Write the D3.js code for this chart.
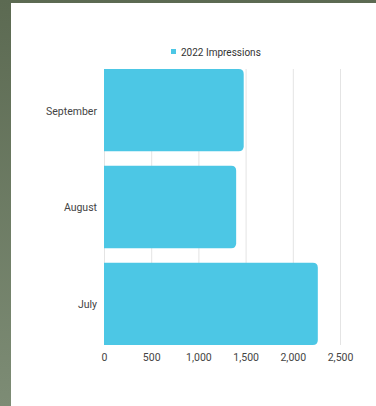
<!DOCTYPE html>
<html>
<head>
<meta charset="utf-8">
<script src="https://cdn.jsdelivr.net/npm/d3@7/dist/d3.min.js"></script>
<style>
  html, body { margin: 0; padding: 0; background: #ffffff; }
  svg { display: block; }
  text { font-family: Roboto, "Noto Sans", sans-serif; }
</style>
</head>
<body>
<svg id="chart" width="376" height="406"></svg>
<script>
// Monthly impressions, top to bottom
const months = ["September", "August", "July"];
const impressions = [1480, 1400, 2265];
const seriesName = "2022 Impressions";
const xTicks = [0, 500, 1000, 1500, 2000, 2500];

const svg = d3.select("#chart");
const W = 376, H = 406;
const fontSize = 10.5;

// Page backdrop: muted green frame with a white card
const defs = svg.append("defs");
const grad = defs.append("linearGradient")
  .attr("id", "frame").attr("x1", 0).attr("y1", 0).attr("x2", 0).attr("y2", 1);
grad.append("stop").attr("offset", "0%").attr("stop-color", "#5c6a52");
grad.append("stop").attr("offset", "100%").attr("stop-color", "#7d8c75");
svg.append("rect").attr("width", W).attr("height", H).attr("fill", "url(#frame)");
svg.append("rect").attr("x", 11).attr("y", 3).attr("width", W - 11).attr("height", H - 3)
  .attr("fill", "#ffffff");

const x = d3.scaleLinear().domain([0, 2500]).range([104, 340]);
const y = d3.scaleBand().domain(months).range([69, 345]).paddingInner(0.15).paddingOuter(0);

// Vertical gridlines
svg.append("g").selectAll("line").data(xTicks).join("line")
  .attr("x1", d => x(d) + 0.5).attr("x2", d => x(d) + 0.5)
  .attr("y1", 69).attr("y2", 345)
  .attr("stroke", "#e4e4e4").attr("stroke-width", 1);

// Bars with rounded right ends
const r = 5;
function barPath(x0, x1, y0, h) {
  const rr = Math.min(r, (x1 - x0) / 2, h / 2);
  return `M${x0},${y0}H${x1 - rr}Q${x1},${y0} ${x1},${y0 + rr}` +
         `V${y0 + h - rr}Q${x1},${y0 + h} ${x1 - rr},${y0 + h}H${x0}Z`;
}
const data = months.map((m, i) => ({ month: m, value: impressions[i] }));
svg.append("g").selectAll("path").data(data).join("path")
  .attr("d", d => barPath(x(0), x(d.value), y(d.month), y.bandwidth()))
  .attr("fill", "#4cc7e5");

// X axis labels
const xAxis = d3.axisBottom(x).tickValues(xTicks).tickSize(0).tickPadding(0)
  .tickFormat(d3.format(","));
const gx = svg.append("g").attr("transform", "translate(0,354)").call(xAxis);
gx.select(".domain").remove();
gx.selectAll("text").attr("font-size", fontSize).attr("fill", "#444444")
  .attr("font-family", "Roboto, sans-serif");

// Y axis labels
const yAxis = d3.axisLeft(y).tickSize(0).tickPadding(0);
const gy = svg.append("g").attr("transform", "translate(97,1)").call(yAxis);
gy.select(".domain").remove();
gy.selectAll("text").attr("font-size", fontSize).attr("fill", "#444444")
  .attr("font-family", "Roboto, sans-serif");

// Legend
const lg = svg.append("g").attr("transform", "translate(171,49)");
lg.append("rect").attr("width", 5).attr("height", 5).attr("fill", "#4cc7e5");
lg.append("text").attr("x", 10).attr("y", 3).attr("dy", "0.35em")
  .attr("font-size", 10).attr("fill", "#333333").text(seriesName);
</script>
</body>
</html>
